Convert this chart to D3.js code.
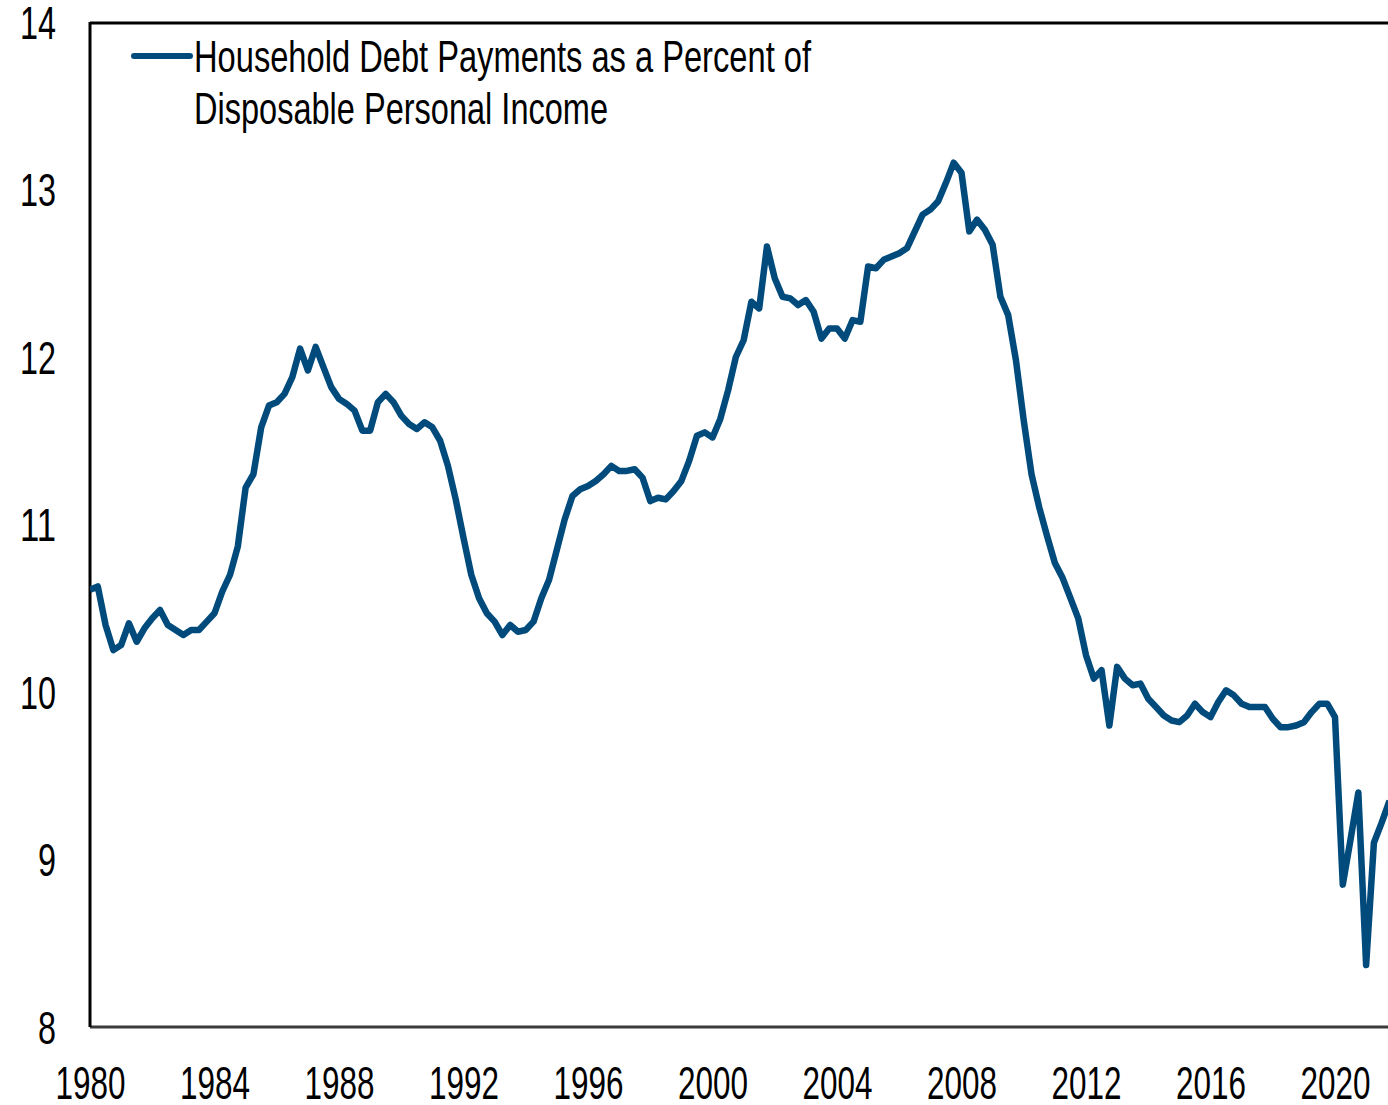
<!DOCTYPE html>
<html>
<head>
<meta charset="utf-8">
<script src="https://cdn.jsdelivr.net/npm/d3@7"></script>
<style>
  html, body { margin: 0; padding: 0; background: #fff; }
  svg { display: block; }
  text { font-family: "Liberation Sans Narrow", "Arial Narrow", "Liberation Sans", Arial, sans-serif; fill: #000; }
</style>
</head>
<body>
<svg id="chart" width="1388" height="1105"></svg>
<script>
// Quarterly series, starting 1980 Q1
const startYear = 1980;
const values = [
  10.61, 10.63, 10.40, 10.25, 10.28, 10.41, 10.30, 10.38, 10.44, 10.49,
  10.40, 10.37, 10.34, 10.37, 10.37, 10.42, 10.47, 10.60, 10.70, 10.87,
  11.22, 11.30, 11.58, 11.71, 11.73, 11.78, 11.88, 12.05, 11.92, 12.06,
  11.94, 11.82, 11.75, 11.72, 11.68, 11.56, 11.56, 11.73, 11.78, 11.73,
  11.65, 11.60, 11.57, 11.61, 11.58, 11.50, 11.35, 11.15, 10.92, 10.70,
  10.56, 10.47, 10.42, 10.34, 10.40, 10.36, 10.37, 10.42, 10.56, 10.67,
  10.85, 11.03, 11.17, 11.21, 11.23, 11.26, 11.30, 11.35, 11.32, 11.32,
  11.33, 11.28, 11.14, 11.16, 11.15, 11.20, 11.26, 11.38, 11.53, 11.55,
  11.52, 11.63, 11.80, 12.00, 12.10, 12.33, 12.29, 12.66, 12.47, 12.36,
  12.35, 12.31, 12.34, 12.27, 12.11, 12.17, 12.17, 12.11, 12.22, 12.21,
  12.54, 12.53, 12.58, 12.60, 12.62, 12.65, 12.75, 12.85, 12.88, 12.93,
  13.04, 13.16, 13.10, 12.75, 12.82, 12.76, 12.67, 12.36, 12.25, 11.98,
  11.62, 11.30, 11.10, 10.93, 10.77, 10.68, 10.56, 10.44, 10.22, 10.08,
  10.13,  9.80, 10.15, 10.08, 10.04, 10.05,  9.96,  9.91,  9.86,  9.83,
   9.82,  9.86,  9.93,  9.88,  9.85,  9.94, 10.01,  9.98,  9.93,  9.91,
   9.91,  9.91,  9.84,  9.79,  9.79,  9.80,  9.82,  9.88,  9.93,  9.93,
   9.85,  8.85,  9.12,  9.40,  8.37,  9.10,  9.22,  9.35
];
const xTicks = [1980, 1984, 1988, 1992, 1996, 2000, 2004, 2008, 2012, 2016, 2020];
const yTicks = [8, 9, 10, 11, 12, 13, 14];
const legendLines = ["Household Debt Payments as a Percent of", "Disposable Personal Income"];

const data = values.map((v, i) => ({ t: startYear + i / 4, v }));

const svg = d3.select("#chart");
const pLeft = 90, pRight = 1388, pTop = 22, pBottom = 1027;

const x = d3.scaleLinear().domain([1980, 2020]).range([pLeft, 1335]);
const y = d3.scaleLinear().domain([8, 14]).range([pBottom, pTop]);

const color = "#004B7C";
const fontStack = '"Liberation Sans Narrow", "Arial Narrow", sans-serif';

svg.append("defs").append("clipPath").attr("id", "plotclip")
  .append("rect").attr("x", pLeft).attr("y", pTop - 10).attr("width", pRight - pLeft + 10).attr("height", pBottom - pTop + 10);

// Y axis labels
const yAxis = d3.axisLeft(y).tickValues(yTicks).tickSize(0).tickPadding(34).tickFormat(d3.format("d"));
const gy = svg.append("g").attr("transform", `translate(${pLeft},0)`).call(yAxis);
gy.select(".domain").remove();
gy.selectAll("text")
  .attr("font-size", 46)
  .attr("dy", "0.35em")
  .attr("textLength", d => String(d).length * 18)
  .attr("lengthAdjust", "spacingAndGlyphs")
  .style("font-family", fontStack);

// X axis labels
const xAxis = d3.axisBottom(x).tickValues(xTicks).tickSize(0).tickPadding(0).tickFormat(d3.format("d"));
const gx = svg.append("g").attr("transform", `translate(0,${pBottom})`).call(xAxis);
gx.select(".domain").remove();
gx.selectAll("text")
  .attr("font-size", 46)
  .attr("y", 72)
  .attr("dy", 0)
  .attr("textLength", 70)
  .attr("lengthAdjust", "spacingAndGlyphs")
  .style("font-family", fontStack);

// frame
svg.append("line").attr("x1", pLeft).attr("x2", pRight).attr("y1", pBottom).attr("y2", pBottom)
  .attr("stroke", "#3a3a3a").attr("stroke-width", 3);
svg.append("line").attr("x1", pLeft).attr("x2", pRight).attr("y1", pTop + 1).attr("y2", pTop + 1)
  .attr("stroke", "#000").attr("stroke-width", 3);
svg.append("line").attr("x1", pLeft).attr("x2", pLeft).attr("y1", pTop).attr("y2", pBottom)
  .attr("stroke", "#000").attr("stroke-width", 3);

// line
const line = d3.line().x(d => x(d.t)).y(d => y(d.v));
svg.append("path").datum(data)
  .attr("clip-path", "url(#plotclip)")
  .attr("d", line)
  .attr("fill", "none")
  .attr("stroke", color)
  .attr("stroke-width", 6.5)
  .attr("stroke-linejoin", "round");

// legend
const lg = svg.append("g");
lg.append("line").attr("x1", 134).attr("x2", 190).attr("y1", 56).attr("y2", 56)
  .attr("stroke", color).attr("stroke-width", 6).attr("stroke-linecap", "round");
const legendWidths = [617, 414];
legendLines.forEach((t, i) => {
  lg.append("text")
    .attr("x", 194).attr("y", 72 + i * 52)
    .attr("font-size", 44)
    .attr("textLength", legendWidths[i])
    .attr("lengthAdjust", "spacingAndGlyphs")
    .style("font-family", fontStack)
    .text(t);
});
</script>
</body>
</html>
